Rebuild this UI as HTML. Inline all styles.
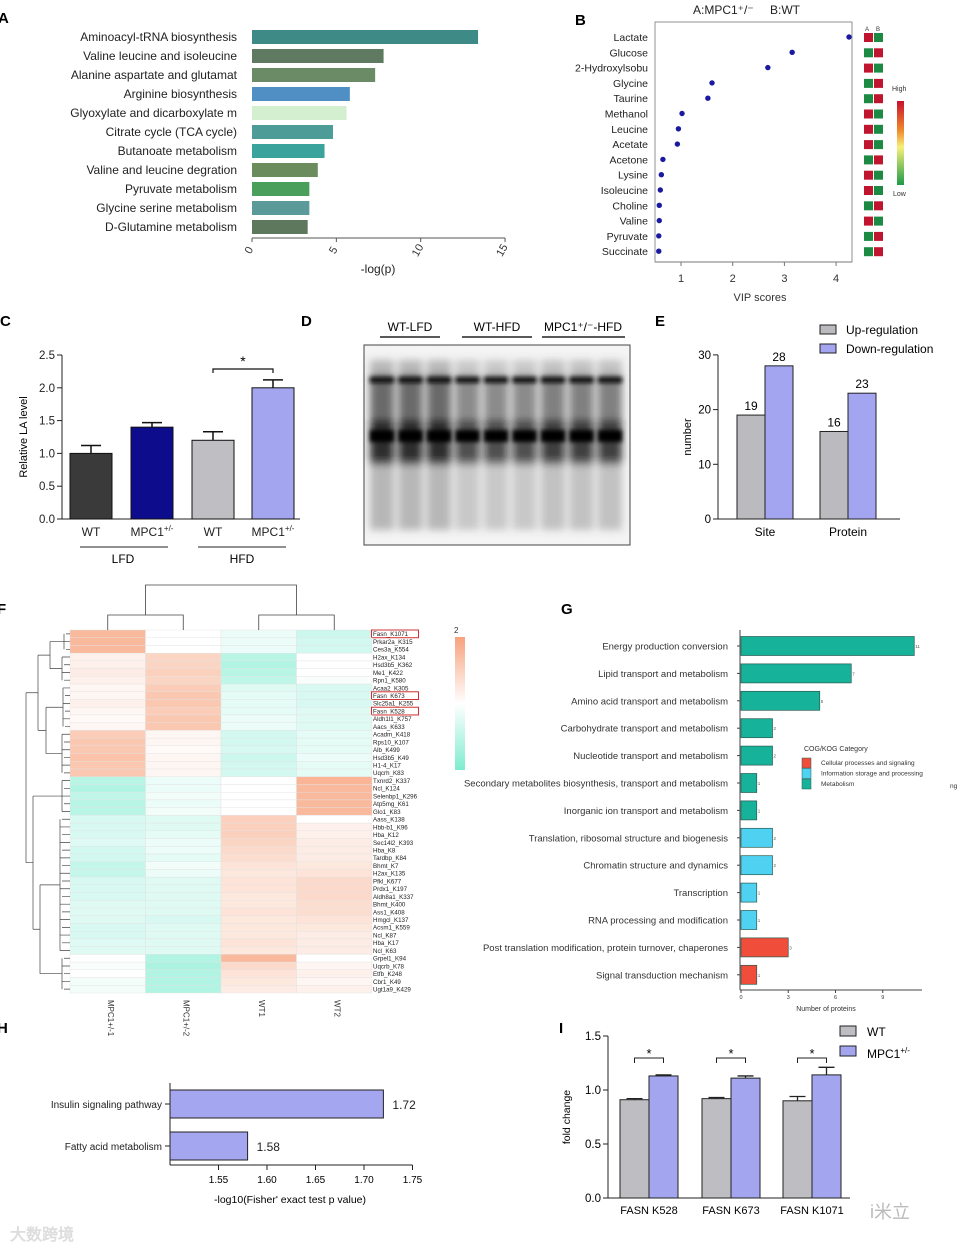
<!DOCTYPE html>
<html><head><meta charset="utf-8">
<style>
html,body{margin:0;padding:0;background:#fff;}
svg{display:block;font-family:"Liberation Sans",Arial,sans-serif;}
</style></head>
<body>
<svg id="fig" width="966" height="1252" viewBox="0 0 966 1252" xmlns="http://www.w3.org/2000/svg">
<defs>
<linearGradient id="vipgrad" x1="0" y1="0" x2="0" y2="1">
<stop offset="0" stop-color="#c8102e"/><stop offset="0.35" stop-color="#f08a2a"/><stop offset="0.55" stop-color="#f6f07a"/><stop offset="1" stop-color="#1e9a48"/></linearGradient>
<linearGradient id="hmgrad" x1="0" y1="0" x2="0" y2="1">
<stop offset="0" stop-color="#f7a27c"/><stop offset="0.5" stop-color="#ffffff"/><stop offset="1" stop-color="#7eecd0"/></linearGradient>
<filter id="blur2"><feGaussianBlur stdDeviation="2"/></filter>
<filter id="blur4"><feGaussianBlur stdDeviation="4"/></filter>
</defs>
<g id="letters" font-weight="bold" font-size="15" fill="#000">
<text x="-2" y="23">A</text>
<text x="575" y="25">B</text>
<text x="0" y="326">C</text>
<text x="301" y="326">D</text>
<text x="655" y="326">E</text>
<text x="-3" y="614">F</text>
<text x="561" y="614">G</text>
<text x="-3" y="1033">H</text>
<text x="559" y="1033">I</text>
</g>
<g id="gA"></g><g id="gB"></g><g id="gC"></g><g id="gD"></g><g id="gE"></g><g id="gF"></g><g id="gG"></g><g id="gH"></g><g id="gI"></g>
<text x="10" y="1240" font-size="16" fill="#ddd" font-weight="bold">大数跨境</text>
<text x="870" y="1218" font-size="18" fill="#bbb">i米立</text>
</svg>
<script>
const NS="http://www.w3.org/2000/svg";
function mk(parent,tag,attrs,txt){const e=document.createElementNS(NS,tag);for(const k in attrs)e.setAttribute(k,attrs[k]);if(txt!==undefined)e.textContent=txt;parent.appendChild(e);return e;}

/* ---------- Panel A data ---------- */
const aCats=["Aminoacyl-tRNA biosynthesis","Valine leucine and isoleucine","Alanine aspartate and glutamat","Arginine biosynthesis","Glyoxylate and dicarboxylate m","Citrate cycle (TCA cycle)","Butanoate metabolism","Valine and leucine degration","Pyruvate metabolism","Glycine serine metabolism","D-Glutamine  metabolism"];
const aVals=[13.4,7.8,7.3,5.8,5.6,4.8,4.3,3.9,3.4,3.4,3.3];
const aTicks=[0,5,10,15];
const aColors=["#3e8a86","#5f7a60","#6b8b66","#4f8fc4","#d4efd0","#4d9c98","#3aa39b","#6b8d5d","#4aa05a","#5a9a99","#5d785c"];
/* ---------- Panel B data ---------- */
const bCats=["Lactate","Glucose","2-Hydroxylsobu","Glycine","Taurine","Methanol","Leucine","Acetate","Acetone","Lysine","Isoleucine","Choline","Valine","Pyruvate","Succinate"];
const bVals=[4.25,3.15,2.68,1.6,1.52,1.02,0.95,0.93,0.65,0.62,0.6,0.58,0.58,0.57,0.57];
const bHighA=[1,0,1,0,0,1,1,1,0,1,1,0,1,0,0];
const bTicks=[1,2,3,4];
/* ---------- Panel C data ---------- */
const cCats=["WT","MPC1+/-","WT","MPC1+/-"];
const cVals=[1.0,1.4,1.2,2.0];
const cErr=[0.12,0.07,0.13,0.12];
const cTicks=[0,0.5,1.0,1.5,2.0,2.5];
/* ---------- Panel E data ---------- */
const eCats=["Site","Protein"];
const eUp=[19,16];
const eDown=[28,23];
const eTicks=[0,10,20,30];
/* ---------- Panel F data ---------- */
const fGenes=["Fasn_K1071","Prkar2a_K315","Ces3a_K554","H2ax_K134","Hsd3b5_K362","Me1_K422","Rpn1_K580","Acaa2_K305","Fasn_K673","Slc25a1_K255","Fasn_K528","Aldh1l1_K757","Aacs_K633","Acadm_K418","Rps10_K107","Alb_K499","Hsd3b5_K49","H1-4_K17","Uqcrh_K83","Txnrd2_K337","Ncl_K124","Selenbp1_K296","Atp5mg_K61","Glo1_K83","Aass_K138","Hbb-b1_K96","Hba_K12","Sec14l2_K393","Hba_K8","Tardbp_K84","Bhmt_K7","H2ax_K135","Pfkl_K677","Prdx1_K197","Aldh8a1_K337","Bhmt_K400","Ass1_K408","Hmgcl_K137","Acsm1_K559","Ncl_K87","Hba_K17","Ncl_K63","Grpel1_K94","Uqcrb_K78","Etfb_K248","Cbr1_K49","Ugt1a9_K429"];
const fSamples=["MPC1+/-1","MPC1+/-2","WT1","WT2"];
const fMPC1=[1.5,1.5,1.5,0.3,0.3,0.4,0.3,0.2,0.2,0.3,0.2,0.1,0.2,1.1,1.2,1.2,1.3,1.2,1.2,-1.1,-1.2,-1.0,-1.1,-1.1,-0.6,-0.6,-0.6,-0.5,-0.7,-0.7,-0.9,-0.9,-0.6,-0.6,-0.6,-0.5,-0.5,-0.5,-0.6,-0.6,-0.5,-0.5,0,-0.1,0,-0.2,-0.2];
const fMPC2=[0,0,0,0.9,0.9,1.0,0.9,1.1,1.2,1.2,1.1,1.2,1.2,0.2,0.2,0.1,0.2,0.2,0.2,-0.3,-0.3,-0.2,-0.3,-0.2,-0.5,-0.5,-0.4,-0.3,-0.3,-0.4,-0.2,-0.3,-0.5,-0.5,-0.5,-0.5,-0.5,-0.6,-0.5,-0.5,-0.5,-0.5,-1.2,-1.3,-1.2,-1.2,-1.2];
const fWT1=[-0.3,-0.3,-0.3,-1.1,-1.2,-1.1,-1.0,-0.5,-0.4,-0.4,-0.4,-0.3,-0.3,-0.7,-0.7,-0.6,-0.8,-0.7,-0.7,0,0,0,0,0,1.0,1.0,1.0,0.9,0.8,0.7,0.6,0.5,0.6,0.6,0.5,0.5,0.6,0.5,0.5,0.5,0.6,0.5,1.5,0.8,0.6,0.5,0.4];
const fWT2=[-0.8,-0.7,-0.7,0,0,0,-0.1,-0.6,-0.6,-0.6,-0.5,-0.5,-0.5,-0.4,-0.4,-0.4,-0.3,-0.4,-0.4,1.6,1.5,1.5,1.5,1.5,0,0.3,0.3,0.4,0.4,0.4,0.5,0.6,0.8,0.8,0.8,0.7,0.7,0.6,0.5,0.4,0.4,0.4,0,0.2,0.3,0.2,0.3];
const fBoxed=["Fasn_K1071","Fasn_K673","Fasn_K528"];
/* ---------- Panel G data ---------- */
const gCats=["Energy production conversion","Lipid transport and metabolism","Amino acid transport and metabolism","Carbohydrate transport and metabolism","Nucleotide transport and metabolism","Secondary metabolites biosynthesis, transport and metabolism","Inorganic ion transport and metabolism","Translation, ribosomal structure and biogenesis","Chromatin structure and dynamics","Transcription","RNA processing and modification","Post translation modification, protein turnover, chaperones","Signal transduction mechanism"];
const gVals=[11,7,5,2,2,1,1,2,2,1,1,3,1];
const gGroup=[2,2,2,2,2,2,2,1,1,1,1,0,0];
const gTicks=[0,3,6,9];
const gLegend=["Cellular processes and signaling","Information storage and processing","Metabolism"];
/* ---------- Panel H data ---------- */
const hCats=["Insulin signaling pathway","Fatty acid metabolism"];
const hVals=[1.72,1.58];
const hTicks=[1.55,1.60,1.65,1.70,1.75];
/* ---------- Panel I data ---------- */
const iCats=["FASN K528","FASN K673","FASN K1071"];
const iWT=[0.91,0.92,0.90];
const iMPC=[1.13,1.11,1.14];
const iWTerr=[0.01,0.01,0.04];
const iMPCerr=[0.01,0.02,0.07];
const iTicks=[0.0,0.5,1.0,1.5];

/* ===== Panel A ===== */
(function(){const g=document.getElementById('gA');
const x0=252,sx=16.87,y0=37,step=19,bh=14;const X=v=>x0+v*sx;
aCats.forEach((c,i)=>{const y=y0+i*step;
const t=mk(g,'text',{x:237,y:y+4,'text-anchor':'end','font-size':12,fill:'#222'},c);

const r=mk(g,'rect',{x:x0,y:y-bh/2,width:X(aVals[i])-x0,height:bh,fill:aColors[i]});
});
const ax=mk(g,'line',{x1:x0,y1:238,x2:X(15),y2:238,stroke:'#555'});
aTicks.forEach(t=>{mk(g,'line',{x1:X(t),y1:238,x2:X(t),y2:242,stroke:'#555'});
const tl=mk(g,'text',{x:X(t),y:252,'font-size':11,fill:'#333',transform:`rotate(-60 ${X(t)} 252)`,'text-anchor':'middle'},t);
});
const at=mk(g,'text',{x:378,y:273,'font-size':12,'text-anchor':'middle',fill:'#222'},'-log(p)');
})();

/* ===== Panel B ===== */
(function(){const g=document.getElementById('gB');
const X=v=>681+(v-1)*51.7, y0=37, step=15.3;
mk(g,'text',{x:693,y:14,'font-size':12,fill:'#222'},'A:MPC1⁺/⁻');mk(g,'text',{x:770,y:14,'font-size':12,fill:'#222'},'B:WT');
const box=mk(g,'rect',{x:655,y:22,width:197,height:240,fill:'none',stroke:'#777','stroke-width':0.8});
bCats.forEach((c,i)=>{const y=y0+i*step;
const t=mk(g,'text',{x:648,y:y+4,'text-anchor':'end','font-size':10.5,fill:'#222'},c);
const p=mk(g,'circle',{cx:X(bVals[i]),cy:y,r:2.7,fill:'#1a1aa0'});
const ca=bHighA[i]?'#c0152f':'#1d8a44',cb=bHighA[i]?'#1d8a44':'#c0152f';
const s1=mk(g,'rect',{x:864,y:y-4,width:9,height:9,fill:ca});
const s2=mk(g,'rect',{x:874,y:y-4,width:9,height:9,fill:cb});});
mk(g,'text',{x:865,y:31,'font-size':6,fill:'#333'},'A');mk(g,'text',{x:876,y:31,'font-size':6,fill:'#333'},'B');
mk(g,'line',{x1:655,y1:262,x2:852,y2:262,stroke:'#777'});
bTicks.forEach(t=>{mk(g,'line',{x1:X(t),y1:262,x2:X(t),y2:266,stroke:'#777'});const tl=mk(g,'text',{x:X(t),y:282,'font-size':11,'text-anchor':'middle',fill:'#333'},t);});
const at=mk(g,'text',{x:760,y:301,'font-size':11,'text-anchor':'middle',fill:'#333'},'VIP scores');
const lg=mk(g,'rect',{x:897,y:101,width:7,height:84,fill:'url(#vipgrad)'});
mk(g,'text',{x:892,y:91,'font-size':7,fill:'#333'},'High');mk(g,'text',{x:893,y:196,'font-size':7,fill:'#333'},'Low');
})();

/* ===== Panel C ===== */
(function(){const g=document.getElementById('gC');
const Y=v=>519-v*65.6;const xs=[70,131,192,252],bw=42,cols=['#3a3a3a','#0c0c8c','#bebec3','#a3a6ef'];
const ya=mk(g,'line',{x1:62,y1:Y(2.5),x2:62,y2:519,stroke:'#222'});
mk(g,'line',{x1:62,y1:519,x2:300,y2:519,stroke:'#222'});
cTicks.forEach(t=>{mk(g,'line',{x1:57,y1:Y(t),x2:62,y2:Y(t),stroke:'#222'});const tl=mk(g,'text',{x:55,y:Y(t)+4,'font-size':11.5,'text-anchor':'end',fill:'#222'},t.toFixed(1));});
cVals.forEach((v,i)=>{const x=xs[i],cx=x+bw/2;
const r=mk(g,'rect',{x:x,y:Y(v),width:bw,height:519-Y(v),fill:cols[i],stroke:'#111','stroke-width':1});
const e=mk(g,'path',{d:`M${cx} ${Y(v)}V${Y(v+cErr[i])}M${cx-10} ${Y(v+cErr[i])}H${cx+10}`,stroke:'#111','stroke-width':1.5,fill:'none'});
const t=mk(g,'text',{x:cx,y:536,'font-size':12,'text-anchor':'middle',fill:'#222'},cCats[i].replace('+/-',''));
if(cCats[i].includes('+/-'))mk(t,'tspan',{dy:-5,'font-size':8},'+/-');});
mk(g,'path',{d:'M213 373V369H273V373',stroke:'#111',fill:'none','stroke-width':1.2});mk(g,'text',{x:243,y:366,'font-size':14,'text-anchor':'middle'},'*');
mk(g,'line',{x1:80,y1:547,x2:168,y2:547,stroke:'#222'});mk(g,'line',{x1:198,y1:547,x2:286,y2:547,stroke:'#222'});
mk(g,'text',{x:123,y:563,'font-size':12,'text-anchor':'middle'},'LFD');mk(g,'text',{x:242,y:563,'font-size':12,'text-anchor':'middle'},'HFD');
const yt=mk(g,'text',{x:27,y:437,'font-size':11,'text-anchor':'middle',transform:'rotate(-90 27 437)'},'Relative LA level');
})();

/* ===== Panel D (western blot) ===== */
(function(){const g=document.getElementById('gD');
const hdr=[["WT-LFD",410,380,440],["WT-HFD",497,462,532],["MPC1⁺/⁻-HFD",583,542,625]];
hdr.forEach(h=>{const t=mk(g,'text',{x:h[1],y:331,'font-size':12,'text-anchor':'middle'},h[0]);mk(g,'line',{x1:h[2],y1:337,x2:h[3],y2:337,stroke:'#222','stroke-width':1.5});});
const b=mk(g,'rect',{x:364,y:345,width:266,height:200,fill:'#f4f4f4',stroke:'#444','stroke-width':1});
const lg=mk(g,'g',{filter:'url(#blur4)'});
for(let i=0;i<9;i++){const x=370+i*28.5;const d=i<3?0.85:(i<6?0.6:0.7);
mk(lg,'rect',{x:x,y:360,width:24,height:170,fill:'#555','fill-opacity':0.45*d});
mk(lg,'rect',{x:x,y:375,width:24,height:90,fill:'#222','fill-opacity':0.6*d});
mk(lg,'rect',{x:x,y:420,width:24,height:40,fill:'#111','fill-opacity':0.8*d});}
const sg=mk(g,'g',{filter:'url(#blur2)'});
for(let i=0;i<9;i++){const x=370+i*28.5;mk(sg,'rect',{x:x,y:377,width:24,height:6,fill:'#111'});mk(sg,'rect',{x:x,y:430,width:24,height:12,fill:'#000'});}
})();

/* ===== Panel E ===== */
(function(){const g=document.getElementById('gE');
const Y=v=>519-v*5.47;const gx=[737,820],bw=28;
mk(g,'line',{x1:718,y1:Y(30),x2:718,y2:519,stroke:'#222'});mk(g,'line',{x1:718,y1:519,x2:900,y2:519,stroke:'#222'});
eTicks.forEach(t=>{mk(g,'line',{x1:713,y1:Y(t),x2:718,y2:Y(t),stroke:'#222'});const tl=mk(g,'text',{x:711,y:Y(t)+4,'font-size':11.5,'text-anchor':'end'},t);});
eCats.forEach((c,i)=>{const x=gx[i];
const r1=mk(g,'rect',{x:x,y:Y(eUp[i]),width:bw,height:519-Y(eUp[i]),fill:'#bbbbbf',stroke:'#222'});
const r2=mk(g,'rect',{x:x+bw,y:Y(eDown[i]),width:bw,height:519-Y(eDown[i]),fill:'#a3a5f0',stroke:'#222'});
mk(g,'text',{x:x+bw/2,y:Y(eUp[i])-5,'font-size':12,'text-anchor':'middle'},eUp[i]);
mk(g,'text',{x:x+bw*1.5,y:Y(eDown[i])-5,'font-size':12,'text-anchor':'middle'},eDown[i]);
const t=mk(g,'text',{x:x+bw,y:536,'font-size':12,'text-anchor':'middle'},c);});
const yt=mk(g,'text',{x:691,y:437,'font-size':11,'text-anchor':'middle',transform:'rotate(-90 691 437)'},'number');
const l1=mk(g,'rect',{x:820,y:325,width:16,height:9,fill:'#bbbbbf',stroke:'#222'});
const l2=mk(g,'rect',{x:820,y:344,width:16,height:9,fill:'#a3a5f0',stroke:'#222'});
mk(g,'text',{x:846,y:334,'font-size':12},'Up-regulation');mk(g,'text',{x:846,y:353,'font-size':12},'Down-regulation');
})();

/* ===== Panel F (heatmap) ===== */
(function(){const g=document.getElementById('gF');
const x0=70,cw=75.5,y0=630,rh=363/fGenes.length;const cols=[fMPC1,fMPC2,fWT1,fWT2];
function color(v){v=Math.max(-2,Math.min(2,v));let a,c;if(v>=0){c=[247,162,124];a=v/2;}else{c=[126,236,208];a=-v/2;}
const r=Math.round(255+(c[0]-255)*a),gg=Math.round(255+(c[1]-255)*a),b=Math.round(255+(c[2]-255)*a);return `rgb(${r},${gg},${b})`;}
fGenes.forEach((gn,i)=>{const y=y0+i*rh;
cols.forEach((arr,j)=>{const r=mk(g,'rect',{x:x0+j*cw,y:y,width:cw,height:rh,fill:color(arr[i]),stroke:'#e2e2e2','stroke-width':0.4});});
const t=mk(g,'text',{x:373,y:y+rh-1.5,'font-size':6.2,fill:'#222'},gn);
if(fBoxed.includes(gn)){mk(g,'rect',{x:371.5,y:y,width:47,height:rh,fill:'none',stroke:'#d23030','stroke-width':1});}});
fSamples.forEach((s,j)=>{const cx=x0+j*cw+cw/2;const t=mk(g,'text',{x:cx,y:1000,'font-size':8,fill:'#333',transform:`rotate(90 ${cx} 1000)`},s);});
/* column dendrogram */
const c=j=>x0+j*cw+cw/2;
mk(g,'path',{d:`M${c(0)} 630V615H${c(1)}V630M${c(2)} 630V615H${c(3)}V630M${(c(0)+c(1))/2} 615V585H${(c(2)+c(3))/2}V615`,fill:'none',stroke:'#444','stroke-width':0.8});
/* row dendrogram (structure) */
const ry=i=>y0+i*rh+rh/2;
function cl(a,b,x){return (ry(a)+ry(b))/2;}
let d='';const groups=[[0,2,60],[3,6,58],[7,12,59],[13,18,58],[19,23,58],[24,41,56],[42,46,58]];
groups.forEach(gr=>{for(let i=gr[0];i<=gr[1];i++)d+=`M70 ${ry(i)}H${gr[2]+(i%2?4:6)}`;d+=`M${gr[2]+4} ${ry(gr[0])}V${ry(gr[1])}M${gr[2]} ${cl(gr[0],gr[1])}H${gr[2]+4}`;});
d+=`M50 ${cl(0,2)}H60M50 ${cl(3,6)}H58M50 ${cl(0,2)}V${cl(3,6)}`;
d+=`M46 ${cl(7,12)}H59M46 ${cl(13,18)}H58M46 ${cl(7,12)}V${cl(13,18)}`;
d+=`M38 ${(cl(0,2)+cl(3,6))/2}H50M38 ${(cl(7,12)+cl(13,18))/2}H46M38 ${(cl(0,2)+cl(3,6))/2}V${(cl(7,12)+cl(13,18))/2}`;
d+=`M40 ${cl(24,41)}H56M40 ${cl(42,46)}H58M40 ${cl(24,41)}V${cl(42,46)}`;
d+=`M33 ${cl(19,23)}H58M33 ${(cl(24,41)+cl(42,46))/2}H40M33 ${cl(19,23)}V${(cl(24,41)+cl(42,46))/2}`;
const top=(cl(0,2)+cl(3,6)+cl(7,12)+cl(13,18))/4,bot=(cl(19,23)+(cl(24,41)+cl(42,46))/2)/2;
d+=`M26 ${top}H38M26 ${bot}H33M26 ${top}V${bot}`;
const den=mk(g,'path',{d:d,fill:'none',stroke:'#444','stroke-width':0.7});
const cb=mk(g,'rect',{x:455,y:637,width:10,height:133,fill:'url(#hmgrad)'});
mk(g,'text',{x:454,y:633,'font-size':8,fill:'#333'},'2');
})();

/* ===== Panel G ===== */
(function(){const g=document.getElementById('gG');
const x0=741,sx=15.75,y0=646,step=27.4,bh=19;const X=v=>x0+v*sx;const cols=['#f04e3a','#4fd1f2','#17b29a'];
mk(g,'line',{x1:740,y1:630,x2:740,y2:990,stroke:'#444'});mk(g,'line',{x1:740,y1:990,x2:922,y2:990,stroke:'#444'});
gCats.forEach((c,i)=>{const y=y0+i*step;
const t=mk(g,'text',{x:728,y:y+3.5,'font-size':9.5,'text-anchor':'end',fill:'#333'},c);
mk(g,'line',{x1:737,y1:y,x2:740,y2:y,stroke:'#444'});
const r=mk(g,'rect',{x:x0,y:y-bh/2,width:X(gVals[i])-x0,height:bh,fill:cols[gGroup[i]],stroke:'#2a5a52','stroke-width':0.7});
mk(g,'text',{x:X(gVals[i])+1,y:y+2,'font-size':4.5,fill:'#555'},gVals[i]);});
gTicks.forEach(t=>{mk(g,'line',{x1:X(t),y1:990,x2:X(t),y2:993,stroke:'#444'});const tl=mk(g,'text',{x:X(t),y:999,'font-size':5.5,'text-anchor':'middle',fill:'#333'},t);});
const at=mk(g,'text',{x:826,y:1011,'font-size':7,'text-anchor':'middle',fill:'#333'},'Number of proteins');
mk(g,'text',{x:804,y:751,'font-size':7,fill:'#333'},'COG/KOG Category');
gLegend.forEach((l,i)=>{const y=758+i*10.5;const r=mk(g,'rect',{x:802,y:y,width:9,height:10,fill:cols[i],stroke:'#2a5a52','stroke-width':0.5});mk(g,'text',{x:821,y:y+7,'font-size':6.5,fill:'#333'},l);});
mk(g,'text',{x:950,y:788,'font-size':6.5,fill:'#333'},'ng');
})();

/* ===== Panel H ===== */
(function(){const g=document.getElementById('gH');
const X=v=>170+(v-1.5)*970;const ys=[1104,1146],bh=28;
mk(g,'line',{x1:170,y1:1083,x2:170,y2:1165,stroke:'#222'});mk(g,'line',{x1:170,y1:1165,x2:X(1.75),y2:1165,stroke:'#222'});
hCats.forEach((c,i)=>{const y=ys[i];
const t=mk(g,'text',{x:162,y:y+4,'font-size':10,'text-anchor':'end',fill:'#222'},c);
mk(g,'line',{x1:165,y1:y,x2:170,y2:y,stroke:'#222'});
const r=mk(g,'rect',{x:170,y:y-bh/2,width:X(hVals[i])-170,height:bh,fill:'#a4a6ef',stroke:'#222','stroke-width':1});
mk(g,'text',{x:X(hVals[i])+9,y:y+5,'font-size':12,fill:'#222'},hVals[i].toFixed(2));});
hTicks.forEach(t=>{mk(g,'line',{x1:X(t),y1:1165,x2:X(t),y2:1170,stroke:'#222'});const tl=mk(g,'text',{x:X(t),y:1183,'font-size':10,'text-anchor':'middle'},t.toFixed(2));});
const at=mk(g,'text',{x:290,y:1203,'font-size':10.5,'text-anchor':'middle'},"-log10(Fisher' exact test p value)");
})();

/* ===== Panel I ===== */
(function(){const g=document.getElementById('gI');
const Y=v=>1198-v*108;const gx=[620,702,783],bw=29;
mk(g,'line',{x1:608,y1:Y(1.5),x2:608,y2:1198,stroke:'#222'});mk(g,'line',{x1:608,y1:1198,x2:850,y2:1198,stroke:'#222'});
iTicks.forEach(t=>{mk(g,'line',{x1:603,y1:Y(t),x2:608,y2:Y(t),stroke:'#222'});const tl=mk(g,'text',{x:601,y:Y(t)+4,'font-size':11.5,'text-anchor':'end'},t.toFixed(1));});
iCats.forEach((c,i)=>{const x=gx[i];
[[iWT,iWTerr,'#bdbdc2',x],[iMPC,iMPCerr,'#a3a6ef',x+bw]].forEach(s=>{const v=s[0][i],e=s[1][i],bx=s[3],cx=bx+bw/2;
const r=mk(g,'rect',{x:bx,y:Y(v),width:bw,height:1198-Y(v),fill:s[2],stroke:'#222'});
mk(g,'path',{d:`M${cx} ${Y(v)}V${Y(v+e)}M${cx-8} ${Y(v+e)}H${cx+8}`,stroke:'#222','stroke-width':1.3,fill:'none'});});
mk(g,'path',{d:`M${x+bw/2} 1063V1058H${x+bw*1.5}V1063`,stroke:'#222',fill:'none'});mk(g,'text',{x:x+bw,y:1058,'font-size':13,'text-anchor':'middle'},'*');
const t=mk(g,'text',{x:x+bw,y:1214,'font-size':11,'text-anchor':'middle'},c);});
const yt=mk(g,'text',{x:570,y:1117,'font-size':10.5,'text-anchor':'middle',transform:'rotate(-90 570 1117)'},'fold change');
const l1=mk(g,'rect',{x:840,y:1026,width:16,height:10,fill:'#bdbdc2',stroke:'#222'});
const l2=mk(g,'rect',{x:840,y:1046,width:16,height:10,fill:'#a3a6ef',stroke:'#222'});
mk(g,'text',{x:867,y:1036,'font-size':12},'WT');const m=mk(g,'text',{x:867,y:1058,'font-size':12},'MPC1');mk(m,'tspan',{dy:-5,'font-size':8},'+/-');
})();
</script>
</body></html>
